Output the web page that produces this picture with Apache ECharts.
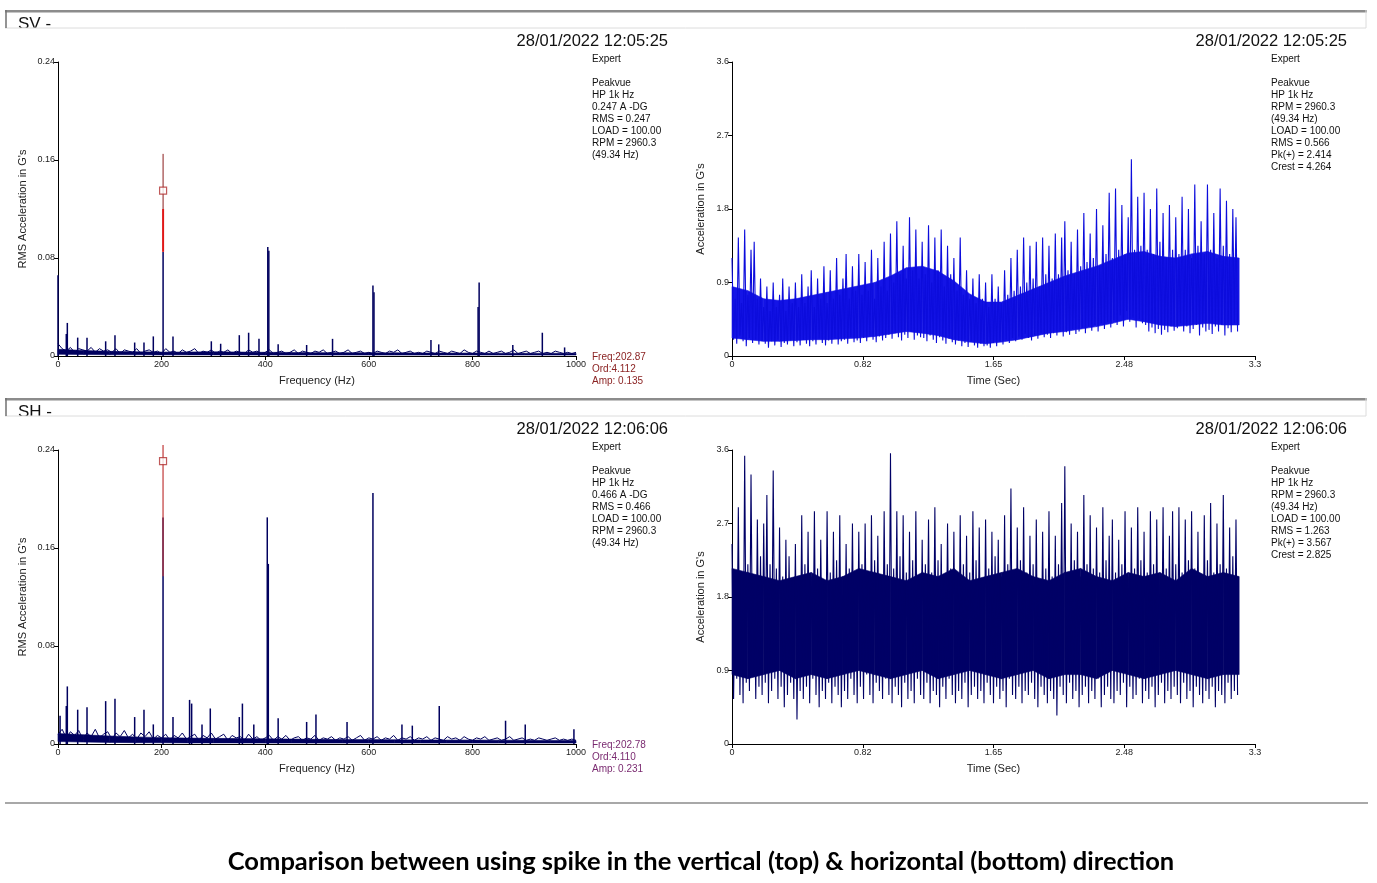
<!DOCTYPE html>
<html>
<head>
<meta charset="utf-8">
<script src="https://cdn.jsdelivr.net/npm/echarts@6/dist/echarts.min.js"></script>
<style>
  html, body { margin: 0; padding: 0; background: #fff; }
  #chart { width: 1377px; height: 883px; }
</style>
</head>
<body>
<div id="chart"></div>
<script>
// ---- data ----
var specStepHz = 8; // noise floor sampled every 8 Hz, 0..1000
var specTopFloor = [0.010,0.006,0.004,0.007,0.003,0.006,0.005,0.004,0.007,0.003,
  0.006,0.004,0.005,0.003,0.006,0.002,0.005,0.004,0.003,0.006,
  0.002,0.004,0.005,0.003,0.004,0.002,0.006,0.003,0.004,0.002,
  0.005,0.003,0.004,0.006,0.002,0.004,0.003,0.005,0.002,0.004,
  0.003,0.005,0.002,0.004,0.003,0.002,0.005,0.003,0.004,0.002,
  0.003,0.005,0.002,0.003,0.004,0.002,0.003,0.005,0.002,0.004,
  0.003,0.002,0.004,0.003,0.005,0.002,0.003,0.004,0.002,0.003,
  0.005,0.002,0.003,0.004,0.002,0.003,0.002,0.004,0.003,0.002,
  0.004,0.003,0.005,0.002,0.003,0.004,0.002,0.003,0.002,0.004,
  0.003,0.002,0.004,0.003,0.002,0.004,0.003,0.002,0.005,0.003,
  0.002,0.004,0.003,0.002,0.004,0.002,0.003,0.004,0.002,0.003,
  0.005,0.002,0.003,0.004,0.002,0.003,0.004,0.002,0.003,0.002,
  0.004,0.003,0.002,0.003,0.002,0.003];
var specTopPeakHz  = [0, 16, 18, 38, 56, 92, 110, 148, 166, 184, 202.87, 222, 296, 314, 350, 368, 388, 405, 407, 425, 480, 530, 608, 610, 720, 735, 811, 813, 878, 935, 978];
var specTopPeakAmp = [0.066, 0.018, 0.027, 0.015, 0.015, 0.012, 0.017, 0.011, 0.011, 0.016, 0.085, 0.016, 0.012, 0.010, 0.017, 0.019, 0.014, 0.089, 0.086, 0.0095, 0.009, 0.014, 0.0575, 0.052, 0.013, 0.0095, 0.040, 0.060, 0.009, 0.019, 0.007];
// solid part of the noise floor, every 50 Hz
var bandStepHz = 50;
var specTopBandHigh = [0.0055,0.0045,0.0038,0.0034,0.0032,0.0032,0.0034,0.0032,0.0030,0.0029,0.0027,0.0027,0.0026,0.0026,0.0025,0.0024,0.0024,0.0023,0.0022,0.0022,0.0022];
var specTopBandLow  = [0.0014,0.0012,0.0010,0.0010,0.0009,0.0009,0.0009,0.0009,0.0008,0.0008,0.0008,0.0008,0.0008,0.0008,0.0008,0.0008,0.0008,0.0008,0.0008,0.0008,0.0008];

var specBotFloor = [0.008,0.012,0.005,0.010,0.007,0.011,0.004,0.009,0.006,0.012,
  0.005,0.008,0.010,0.004,0.009,0.006,0.011,0.005,0.008,0.004,
  0.009,0.006,0.010,0.004,0.007,0.005,0.008,0.003,0.007,0.005,
  0.009,0.004,0.006,0.008,0.003,0.007,0.005,0.009,0.004,0.006,
  0.008,0.003,0.007,0.005,0.006,0.003,0.008,0.004,0.006,0.003,
  0.005,0.007,0.003,0.006,0.004,0.007,0.003,0.005,0.006,0.003,
  0.005,0.004,0.007,0.003,0.005,0.004,0.006,0.003,0.005,0.004,
  0.006,0.003,0.005,0.007,0.003,0.005,0.004,0.006,0.003,0.005,
  0.004,0.007,0.003,0.005,0.004,0.006,0.003,0.005,0.004,0.006,
  0.003,0.005,0.004,0.003,0.006,0.004,0.005,0.003,0.006,0.004,
  0.003,0.005,0.004,0.006,0.003,0.004,0.005,0.003,0.004,0.006,
  0.003,0.004,0.005,0.003,0.004,0.003,0.005,0.004,0.003,0.004,
  0.005,0.003,0.004,0.003,0.004,0.003];
var specBotPeakHz  = [4, 16, 18, 38, 56, 92, 110, 148, 166, 184, 202.78, 222, 254, 258, 278, 294, 350, 356, 378, 404, 406, 425, 480, 498, 558, 608, 664, 684, 736, 864, 902, 996];
var specBotPeakAmp = [0.023, 0.031, 0.047, 0.028, 0.030, 0.035, 0.037, 0.022, 0.028, 0.016, 0.185, 0.022, 0.036, 0.033, 0.016, 0.029, 0.022, 0.033, 0.016, 0.185, 0.147, 0.021, 0.018, 0.024, 0.018, 0.205, 0.016, 0.015, 0.031, 0.019, 0.016, 0.012];
var specBotBandHigh = [0.0085,0.0075,0.0065,0.0058,0.0052,0.0048,0.0046,0.0044,0.0042,0.0040,0.0038,0.0036,0.0036,0.0034,0.0033,0.0032,0.0032,0.0031,0.0030,0.0029,0.0028];
var specBotBandLow  = [0.0020,0.0016,0.0013,0.0011,0.0010,0.0009,0.0009,0.0009,0.0008,0.0008,0.0008,0.0008,0.0008,0.0008,0.0008,0.0008,0.0008,0.0008,0.0008,0.0008,0.0008];

// cursor at the 1st harmonic
var cursorTop = { hz: 202.87, amp: 0.135, low: 0.085, mid: 0.12, high: 0.165 };
var cursorBot = { hz: 202.78, amp: 0.231, low: 0.137, high: 0.244 };

// waveform: alternating peaks / troughs, one sample every 0.01 s
var waveDt = 0.01;
var waveTopUpper = [1.20,0.70,1.45,0.65,1.55,0.75,1.30,1.40,0.70,0.95,
  0.60,0.85,0.55,0.90,0.60,0.75,0.95,0.55,0.85,0.65,
  0.90,0.60,1.00,0.65,0.85,1.05,0.60,0.95,0.70,1.10,
  0.65,1.05,0.70,1.20,0.75,0.95,1.25,0.70,1.10,0.80,
  1.25,0.75,1.15,0.80,1.30,0.70,1.20,0.85,1.40,0.80,
  1.50,0.90,1.65,1.00,1.35,0.95,1.70,1.05,1.55,0.95,
  1.40,1.00,1.60,0.90,1.45,1.05,1.55,0.85,1.35,1.00,
  1.20,0.80,1.45,0.75,1.05,0.70,0.95,0.65,1.00,0.70,
  0.90,0.60,1.00,0.70,0.85,0.65,1.05,0.75,1.20,0.80,
  1.30,0.85,1.45,0.90,1.35,0.95,1.40,0.85,1.45,1.00,
  1.35,0.95,1.50,1.00,1.45,1.65,1.05,1.40,1.00,1.55,
  1.10,1.75,1.15,1.50,1.20,1.80,1.10,1.60,1.25,2.00,
  1.20,2.05,1.30,1.85,1.25,1.70,2.41,1.30,1.95,1.35,
  2.00,1.30,1.80,1.25,2.05,1.40,1.75,1.20,1.85,1.30,
  1.70,1.25,1.95,1.30,1.80,1.20,2.10,1.35,1.65,1.25,
  2.10,1.30,1.75,1.20,2.05,1.35,1.90,1.25,1.80,1.70];
var waveTopLower = [0.20,0.15,0.25,0.18,0.12,0.22,0.16,0.20,0.14,0.18,
  0.15,0.10,0.18,0.13,0.20,0.11,0.16,0.14,0.19,0.12,
  0.17,0.13,0.20,0.15,0.12,0.18,0.14,0.21,0.16,0.13,
  0.19,0.15,0.22,0.14,0.18,0.20,0.15,0.23,0.17,0.19,
  0.16,0.22,0.18,0.25,0.20,0.17,0.24,0.19,0.22,0.26,
  0.21,0.28,0.23,0.19,0.26,0.22,0.30,0.20,0.25,0.23,
  0.22,0.18,0.25,0.20,0.16,0.23,0.19,0.15,0.21,0.17,
  0.14,0.19,0.12,0.16,0.11,0.18,0.13,0.10,0.15,0.12,
  0.13,0.10,0.16,0.12,0.18,0.14,0.20,0.16,0.22,0.18,
  0.24,0.20,0.27,0.22,0.19,0.25,0.21,0.28,0.23,0.26,
  0.22,0.28,0.25,0.31,0.24,0.29,0.26,0.33,0.27,0.30,
  0.34,0.28,0.36,0.31,0.38,0.30,0.40,0.33,0.42,0.35,
  0.44,0.38,0.50,0.36,0.55,0.42,0.47,0.35,0.45,0.40,
  0.38,0.30,0.35,0.28,0.33,0.26,0.32,0.29,0.36,0.31,
  0.34,0.40,0.30,0.36,0.28,0.33,0.38,0.25,0.35,0.30,
  0.32,0.27,0.36,0.30,0.38,0.25,0.34,0.29,0.40,0.30];
// dense body of the trace, every 0.1 s
var bodyDt = 0.1;
var waveTopBodyHigh = [0.85,0.80,0.70,0.68,0.70,0.74,0.78,0.82,0.86,0.90,0.98,1.08,1.10,1.04,0.92,0.76,0.66,0.66,0.74,0.82,0.90,0.98,1.04,1.10,1.18,1.26,1.28,1.22,1.20,1.25,1.28,1.22,1.20];
var waveTopBodyLow  = [0.22,0.20,0.18,0.18,0.19,0.20,0.20,0.21,0.22,0.24,0.27,0.30,0.28,0.25,0.20,0.17,0.15,0.17,0.20,0.24,0.28,0.30,0.33,0.36,0.40,0.45,0.42,0.38,0.36,0.38,0.40,0.38,0.38];

var waveBotUpper = [2.45,2.05,2.90,2.10,3.53,2.20,3.30,2.00,2.75,2.30,
  2.70,3.05,2.20,3.35,2.15,2.65,2.05,2.50,2.30,2.00,
  2.45,1.95,2.80,2.20,2.60,2.05,2.85,2.15,2.50,2.00,
  2.85,2.10,2.60,2.25,2.80,2.05,2.45,2.15,2.70,2.00,
  2.60,2.20,2.70,2.10,2.80,2.25,2.55,2.05,2.85,2.20,
  3.56,2.15,2.85,2.30,2.80,2.10,2.60,2.25,2.85,2.05,
  2.50,2.20,2.75,2.10,2.90,2.25,2.45,2.00,2.70,2.15,
  2.60,2.05,2.80,2.20,2.55,2.10,2.85,2.25,2.65,2.00,
  2.75,2.15,2.60,2.30,2.50,2.05,2.80,2.20,3.13,2.10,
  2.65,2.25,2.90,2.10,2.55,2.20,2.75,2.00,2.60,2.15,
  2.85,2.05,2.55,2.20,2.95,3.40,2.10,2.70,2.25,2.60,
  2.05,3.05,2.20,2.80,2.15,2.65,2.10,2.90,2.25,2.55,
  2.75,2.10,2.50,2.20,2.85,2.05,2.65,2.15,2.90,2.25,
  2.60,2.10,2.85,2.20,2.75,2.05,2.90,2.15,2.55,2.85,
  2.20,2.90,2.10,2.75,2.25,2.85,2.15,2.60,2.05,2.80,
  2.25,2.95,2.10,2.70,2.20,3.05,2.15,2.65,2.30,2.75];
var waveBotLower = [0.55,0.80,0.60,0.50,0.75,0.65,0.85,0.55,0.70,0.60,
  0.75,0.50,0.65,0.80,0.55,0.70,0.45,0.60,0.75,0.55,
  0.30,0.65,0.55,0.70,0.50,0.80,0.60,0.45,0.65,0.55,
  0.75,0.50,0.70,0.60,0.45,0.65,0.55,0.80,0.60,0.50,
  0.70,0.55,0.85,0.60,0.50,0.75,0.65,0.55,0.80,0.60,
  0.50,0.70,0.60,0.45,0.75,0.55,0.65,0.50,0.80,0.60,
  0.55,0.75,0.50,0.65,0.60,0.45,0.70,0.55,0.80,0.60,
  0.50,0.65,0.55,0.75,0.45,0.60,0.70,0.55,0.65,0.50,
  0.75,0.60,0.50,0.70,0.55,0.65,0.45,0.80,0.60,0.55,
  0.70,0.50,0.65,0.60,0.75,0.55,0.45,0.70,0.60,0.50,
  0.65,0.55,0.35,0.70,0.60,0.50,0.75,0.55,0.65,0.45,
  0.60,0.70,0.50,0.65,0.55,0.80,0.45,0.60,0.70,0.55,
  0.50,0.65,0.60,0.75,0.45,0.70,0.55,0.60,0.80,0.50,
  0.65,0.55,0.70,0.45,0.60,0.75,0.50,0.65,0.55,0.70,
  0.60,0.50,0.75,0.55,0.65,0.45,0.70,0.60,0.50,0.65,
  0.55,0.70,0.45,0.65,0.60,0.50,0.75,0.55,0.65,0.60];
var waveBotBodyHigh = [2.15,2.10,2.05,2.00,2.05,2.10,2.00,2.05,2.15,2.10,2.05,2.00,2.10,2.05,2.15,2.00,2.05,2.10,2.15,2.05,2.00,2.10,2.15,2.05,2.00,2.10,2.05,2.10,2.00,2.15,2.05,2.10,2.05];
var waveBotBodyLow  = [0.85,0.80,0.85,0.90,0.80,0.85,0.80,0.85,0.90,0.85,0.80,0.85,0.90,0.80,0.85,0.90,0.85,0.80,0.85,0.90,0.80,0.85,0.85,0.80,0.90,0.85,0.80,0.85,0.90,0.85,0.80,0.85,0.85];

var timeTickLabels = ['0', '0.82', '1.65', '2.48', '3.3'];

var infoTopLeft  = ['Expert', '', 'Peakvue', 'HP 1k Hz', '0.247 A -DG', 'RMS = 0.247', 'LOAD = 100.00', 'RPM = 2960.3', '(49.34 Hz)'];
var infoTopRight = ['Expert', '', 'Peakvue', 'HP 1k Hz', 'RPM = 2960.3', '(49.34 Hz)', 'LOAD = 100.00', 'RMS = 0.566', 'Pk(+) = 2.414', 'Crest = 4.264'];
var infoBotLeft  = ['Expert', '', 'Peakvue', 'HP 1k Hz', '0.466 A -DG', 'RMS = 0.466', 'LOAD = 100.00', 'RPM = 2960.3', '(49.34 Hz)'];
var infoBotRight = ['Expert', '', 'Peakvue', 'HP 1k Hz', 'RPM = 2960.3', '(49.34 Hz)', 'LOAD = 100.00', 'RMS = 1.263', 'Pk(+) = 3.567', 'Crest = 2.825'];
var cursorTextTop = ['Freq:202.87', 'Ord:4.112', 'Amp: 0.135'];
var cursorTextBot = ['Freq:202.78', 'Ord:4.110', 'Amp: 0.231'];

// ---- helpers ----
function floorData(vals) {
    return vals.map(function (v, i) { return [i * specStepHz, v]; });
}
function peakData(hz, amp) {
    return hz.map(function (f, i) { return [f, amp[i]]; });
}
function waveData(upper, lower) {
    var out = [];
    for (var i = 0; i < upper.length; i++) {
        out.push([2 * i * waveDt, upper[i]]);
        out.push([(2 * i + 1) * waveDt, lower[i]]);
    }
    return out;
}
// one quad per step between the high and low envelopes
function bandData(high, low, step) {
    var out = [];
    for (var i = 0; i < high.length - 1; i++) {
        out.push([i * step, high[i], low[i], (i + 1) * step, high[i + 1], low[i + 1]]);
    }
    return out;
}

var FONT = 'Liberation Sans';
var NAVY = '#00005e';

function specX(grid) {
    return {
        type: 'value', gridIndex: grid, min: 0, max: 1000, interval: 200,
        name: 'Frequency (Hz)', nameLocation: 'middle', nameGap: 19,
        nameTextStyle: { fontFamily: FONT, fontSize: 11, color: '#222' },
        axisLine: { lineStyle: { color: '#000', width: 1 } },
        axisTick: { length: 4, lineStyle: { color: '#000' } },
        axisLabel: { fontFamily: FONT, fontSize: 9, color: '#222', margin: 4,
            formatter: function (v) { return String(v); } },
        splitLine: { show: false }
    };
}
function specY(grid) {
    return {
        type: 'value', gridIndex: grid, min: 0, max: 0.24, interval: 0.08,
        name: "RMS Acceleration in G's", nameLocation: 'middle', nameGap: 30,
        nameTextStyle: { fontFamily: FONT, fontSize: 11, color: '#222' },
        axisLine: { show: true, lineStyle: { color: '#000', width: 1 } },
        axisTick: { show: true, length: 4, lineStyle: { color: '#000' } },
        axisLabel: { fontFamily: FONT, fontSize: 9, color: '#222', margin: 3,
            formatter: function (v) { return v === 0 ? '0' : v.toFixed(2); } },
        splitLine: { show: false }
    };
}
function timeX(grid) {
    return {
        type: 'value', gridIndex: grid, min: 0, max: 3.3, interval: 0.825,
        name: 'Time (Sec)', nameLocation: 'middle', nameGap: 19,
        nameTextStyle: { fontFamily: FONT, fontSize: 11, color: '#222' },
        axisLine: { lineStyle: { color: '#000', width: 1 } },
        axisTick: { length: 4, lineStyle: { color: '#000' } },
        axisLabel: { fontFamily: FONT, fontSize: 9, color: '#222', margin: 4,
            formatter: function (v) { return timeTickLabels[Math.round(v / 0.825)]; } },
        splitLine: { show: false }
    };
}
function accY(grid) {
    return {
        type: 'value', gridIndex: grid, min: 0, max: 3.6, interval: 0.9,
        name: "Acceleration in G's", nameLocation: 'middle', nameGap: 26,
        nameTextStyle: { fontFamily: FONT, fontSize: 11, color: '#222' },
        axisLine: { show: true, lineStyle: { color: '#000', width: 1 } },
        axisTick: { show: true, length: 4, lineStyle: { color: '#000' } },
        axisLabel: { fontFamily: FONT, fontSize: 9, color: '#222', margin: 3,
            formatter: function (v) { return v === 0 ? '0' : v.toFixed(1); } },
        splitLine: { show: false }
    };
}

function textBlock(x, y, lines, color, size, lh) {
    return {
        type: 'text', left: x, top: y, z: 10,
        style: { text: lines.join('\n'), fontFamily: FONT, fontSize: size, lineHeight: lh, fill: color }
    };
}
function header(y, label) {
    return [
        { type: 'text', left: 18, top: y + 6, z: 5,
          style: { text: label, fontFamily: FONT, fontSize: 17, fill: '#111' } },
        { type: 'rect', shape: { x: 7, y: y + 18, width: 120, height: 5 }, z: 6,
          style: { fill: '#fff' } },
        { type: 'rect', shape: { x: 5, y: y, width: 1362, height: 2.5 }, z: 7,
          style: { fill: '#8c8c8c' } },
        { type: 'line', shape: { x1: 5, y1: y + 18, x2: 1366, y2: y + 18 }, z: 7,
          style: { stroke: '#dcdcdc', lineWidth: 1 } },
        { type: 'line', shape: { x1: 6, y1: y, x2: 6, y2: y + 18 }, z: 7,
          style: { stroke: '#707070', lineWidth: 1.5 } },
        { type: 'line', shape: { x1: 1366, y1: y, x2: 1366, y2: y + 18 }, z: 7,
          style: { stroke: '#dcdcdc', lineWidth: 1 } }
    ];
}
function stamp(rightX, top, text) {
    return { type: 'text', right: 1377 - rightX, top: top,
             style: { text: text, fontFamily: FONT, fontSize: 16.5, fill: '#111' } };
}

var graphic = [].concat(
    header(10, 'SV -'),
    header(398, 'SH -'),
    [
        stamp(668, 33, '28/01/2022 12:05:25'),
        stamp(1347, 33, '28/01/2022 12:05:25'),
        stamp(668, 421, '28/01/2022 12:06:06'),
        stamp(1347, 421, '28/01/2022 12:06:06'),
        textBlock(592, 53, infoTopLeft, '#111', 10, 12),
        textBlock(1271, 53, infoTopRight, '#111', 10, 12),
        textBlock(592, 441, infoBotLeft, '#111', 10, 12),
        textBlock(1271, 441, infoBotRight, '#111', 10, 12),
        textBlock(592, 351, cursorTextTop, '#8b2323', 10, 12),
        textBlock(592, 739, cursorTextBot, '#7a2a70', 10, 12),
        { type: 'line', shape: { x1: 5, y1: 803, x2: 1368, y2: 803 },
          style: { stroke: '#a8a8a8', lineWidth: 2 } },
        { type: 'text', x: 701, y: 862,
          style: { text: 'Comparison between using spike in the vertical (top) & horizontal (bottom) direction',
                   fontFamily: 'Lato', fontWeight: 'bold', fontSize: 25.5, fill: '#000',
                   align: 'center', verticalAlign: 'middle' } }
    ]
);

function bandSeries(idx, high, low, step, color) {
    return {
        type: 'custom', xAxisIndex: idx, yAxisIndex: idx, z: 1,
        data: bandData(high, low, step),
        encode: { x: [0, 3], y: [1, 2, 4, 5] },
        renderItem: function (params, api) {
            var pts = [
                api.coord([api.value(0), api.value(1)]),
                api.coord([api.value(3), api.value(4)]),
                api.coord([api.value(3), api.value(5)]),
                api.coord([api.value(0), api.value(2)])
            ];
            return { type: 'polygon', shape: { points: pts },
                     style: { fill: color, stroke: color, lineWidth: 0.6 } };
        }
    };
}
function specSeries(idx, floorVals, bandHigh, bandLow, hz, amp) {
    return [
        bandSeries(idx, bandHigh, bandLow, bandStepHz, NAVY),
        { type: 'line', xAxisIndex: idx, yAxisIndex: idx, data: floorData(floorVals),
          symbol: 'none', lineStyle: { color: NAVY, width: 1 }, z: 2 },
        { type: 'bar', xAxisIndex: idx, yAxisIndex: idx, data: peakData(hz, amp),
          barWidth: 1.5, itemStyle: { color: NAVY }, z: 3 }
    ];
}

var option = {
    animation: false,
    backgroundColor: '#fff',
    grid: [
        { left: 58, top: 62, width: 518, height: 294 },
        { left: 732, top: 62, width: 523, height: 294 },
        { left: 58, top: 450, width: 518, height: 294 },
        { left: 732, top: 450, width: 523, height: 294 }
    ],
    xAxis: [specX(0), timeX(1), specX(2), timeX(3)],
    yAxis: [specY(0), accY(1), specY(2), accY(3)],
    graphic: graphic,
    series: [].concat(
        specSeries(0, specTopFloor, specTopBandHigh, specTopBandLow, specTopPeakHz, specTopPeakAmp),
        [
            { type: 'line', xAxisIndex: 0, yAxisIndex: 0, symbol: 'none', z: 4,
              data: [[cursorTop.hz, cursorTop.mid], [cursorTop.hz, cursorTop.high]],
              lineStyle: { color: '#8a1c1c', width: 1 } },
            { type: 'line', xAxisIndex: 0, yAxisIndex: 0, symbol: 'none', z: 4,
              data: [[cursorTop.hz, cursorTop.low], [cursorTop.hz, cursorTop.mid]],
              lineStyle: { color: '#e01818', width: 2 } },
            { type: 'scatter', xAxisIndex: 0, yAxisIndex: 0, symbol: 'rect', symbolSize: 7, z: 5,
              data: [[cursorTop.hz, cursorTop.amp]],
              itemStyle: { color: '#fff', borderColor: '#b03030', borderWidth: 1.2 } },
            bandSeries(1, waveTopBodyHigh, waveTopBodyLow, bodyDt, '#1414e6'),
            { type: 'line', xAxisIndex: 1, yAxisIndex: 1, symbol: 'none', z: 2,
              data: waveData(waveTopUpper, waveTopLower),
              lineStyle: { color: '#0c0cdc', width: 1.1 } }
        ],
        specSeries(2, specBotFloor, specBotBandHigh, specBotBandLow, specBotPeakHz, specBotPeakAmp),
        [
            { type: 'line', xAxisIndex: 2, yAxisIndex: 2, symbol: 'none', z: 4, clip: false,
              data: [[cursorBot.hz, cursorBot.low], [cursorBot.hz, cursorBot.high]],
              lineStyle: { color: '#c03838', width: 1.2 } },
            { type: 'scatter', xAxisIndex: 2, yAxisIndex: 2, symbol: 'rect', symbolSize: 7, z: 5,
              data: [[cursorBot.hz, cursorBot.amp]],
              itemStyle: { color: '#fff', borderColor: '#b03030', borderWidth: 1.2 } },
            bandSeries(3, waveBotBodyHigh, waveBotBodyLow, bodyDt, '#000066'),
            { type: 'line', xAxisIndex: 3, yAxisIndex: 3, symbol: 'none', z: 2,
              data: waveData(waveBotUpper, waveBotLower),
              lineStyle: { color: '#000066', width: 1.1 } }
        ]
    )
};

var myChart = echarts.init(document.getElementById('chart'));
myChart.setOption(option);
</script>
</body>
</html>
